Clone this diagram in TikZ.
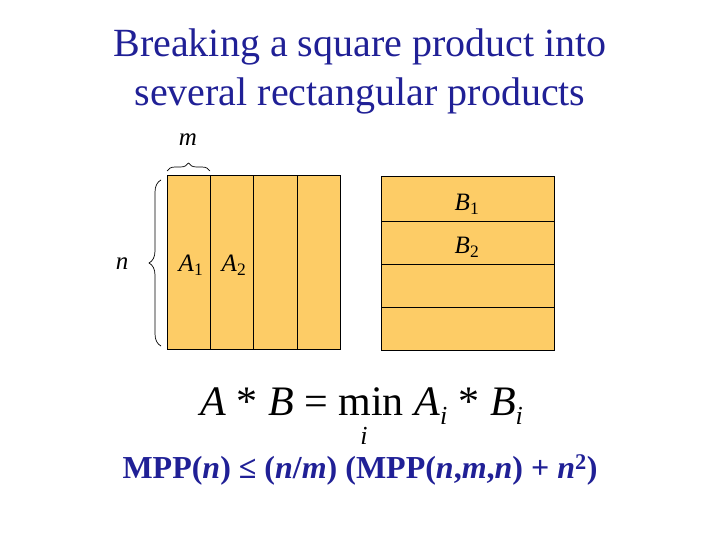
\documentclass[tikz,border=0pt]{standalone}
\usepackage{fontspec}
\setmainfont{Liberation Serif}
\usetikzlibrary{decorations.pathreplacing}
\definecolor{cell}{RGB}{253,204,102}
\definecolor{navy}{RGB}{32,32,150}
\begin{document}
\begin{tikzpicture}[x=1pt,y=-1pt,
  cellbox/.style={draw=black,fill=cell,line width=1pt},
  lbl/.style={font=\fontsize{25}{28}\selectfont\itshape},
  br/.style={decorate,decoration={brace,amplitude=8pt},line width=0.7pt}]
\useasboundingbox (0,0) rectangle (720,540);
\node[navy,font=\fontsize{40}{49}\selectfont,align=center] (title) at (360,71) {Breaking a square product into\\several rectangular products};
% A
\draw[cellbox] (167,176) rectangle (340,349);
\foreach \x in {210,253,297} \draw[line width=0.8pt] (\x,176) -- (\x,349);
\node[lbl] (a1) at (191,265) {A\textsubscript{\upshape 1}};
\node[lbl] (a2) at (234,265) {A\textsubscript{\upshape 2}};
% B
\draw[cellbox] (381,177) rectangle (554,350);
\foreach \y in {221,264,307} \draw[line width=0.8pt] (381,\y) -- (554,\y);
\node[lbl] (b1) at (467,204) {B\textsubscript{\upshape 1}};
\node[lbl] (b2) at (467,247) {B\textsubscript{\upshape 2}};
% braces
\coordinate (t1) at (167,171); \coordinate (t2) at (210,171);
\draw[br] (t1) -- (t2);
\node[lbl] (m) at (188,140) {m};
\coordinate (l1) at (161,346); \coordinate (l2) at (161,180);
\draw[br,decoration={amplitude=12pt}] (l1) -- (l2);
\node[lbl] (n) at (122,264) {n};
% equation
\node[font=\fontsize{42}{48}\selectfont,anchor=base] (eq) at (358,415) {\textit{A} * \textit{B} = min \textit{A}\rlap{\raisebox{-9pt}{\fontsize{26}{28}\selectfont\textit{i}}}\hspace{8pt} * \textit{B}\rlap{\raisebox{-9pt}{\fontsize{26}{28}\selectfont\textit{i}}}\hspace{8pt}};
\node[font=\fontsize{26}{28}\selectfont\itshape] (sub) at (364,436) {i};
% bottom
\node[navy,font=\fontsize{32}{36}\selectfont\bfseries] (mpp) at (360,470) {MPP(\textit{n}) ≤ (\textit{n}/\textit{m}) (MPP(\textit{n},\textit{m},\textit{n}) + \textit{n}\textsuperscript{2})};
\end{tikzpicture}
\end{document}
